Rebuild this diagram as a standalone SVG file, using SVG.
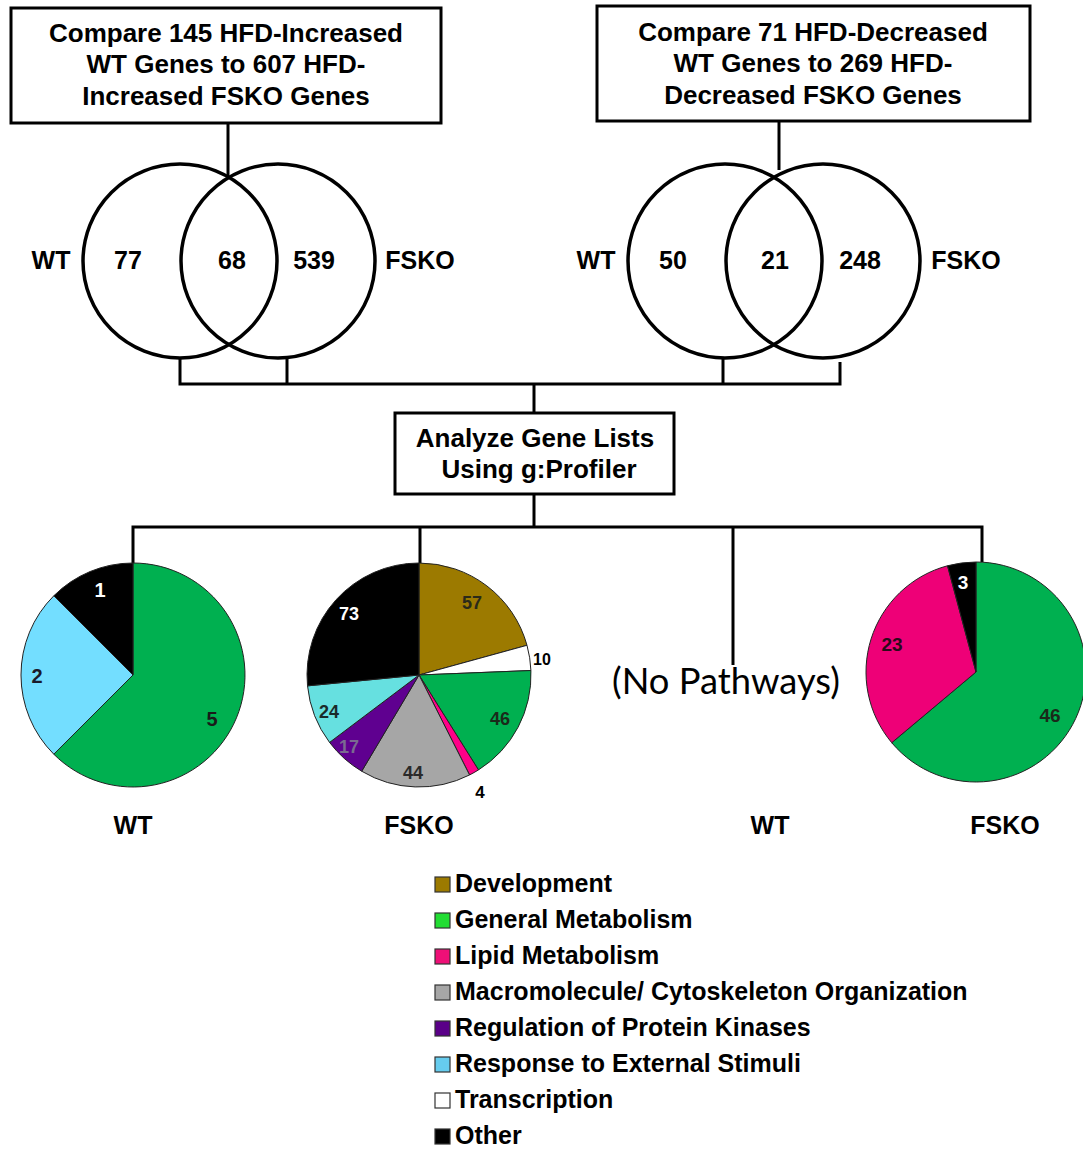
<svg xmlns="http://www.w3.org/2000/svg" width="1083" height="1149" viewBox="0 0 1083 1149">
<style>
.box{fill:#fff;stroke:#000;stroke-width:3}
.ln{fill:none;stroke:#000;stroke-width:3}
.venn{fill:none;stroke:#000;stroke-width:3.5}
.t{font-family:"Liberation Sans",Arial,sans-serif;font-weight:bold;text-anchor:middle;fill:#000}
.b26{font-size:26px}
.b25{font-size:25px}
.sl{stroke:#222;stroke-width:1}
.pl{font-family:"Liberation Sans",Arial,sans-serif;font-weight:bold;text-anchor:middle}
.lg{font-family:"Liberation Sans",Arial,sans-serif;font-weight:bold;font-size:25px;fill:#000}
.sw{stroke:#333;stroke-width:1.2}
</style>
<rect width="1083" height="1149" fill="#fff"/>
<g id="connectors">
<line class="ln" x1="228" y1="123" x2="228" y2="176"/>
<line class="ln" x1="779" y1="121" x2="779" y2="170"/>
<polyline class="ln" points="180,359 180,384 840,384 840,362"/>
<line class="ln" x1="287" y1="359" x2="287" y2="384"/>
<line class="ln" x1="723" y1="359" x2="723" y2="384"/>
<line class="ln" x1="534" y1="384" x2="534" y2="413"/>
<line class="ln" x1="534" y1="494" x2="534" y2="527"/>
<polyline class="ln" points="133,563 133,527 982,527 982,562"/>
<line class="ln" x1="420" y1="527" x2="420" y2="563"/>
<line class="ln" x1="733" y1="527" x2="733" y2="665"/>
</g>
<g id="box-increased">
<rect class="box" x="11" y="8" width="430" height="115"/>
<text class="t b26" x="226" y="42">Compare 145 HFD-Increased</text>
<text class="t b26" x="226" y="73">WT Genes to 607 HFD-</text>
<text class="t b26" x="226" y="105">Increased FSKO Genes</text>
</g>
<g id="box-decreased">
<rect class="box" x="597" y="6" width="433" height="115"/>
<text class="t b26" x="813" y="41">Compare 71 HFD-Decreased</text>
<text class="t b26" x="813" y="72">WT Genes to 269 HFD-</text>
<text class="t b26" x="813" y="104">Decreased FSKO Genes</text>
</g>
<g id="venn-increased">
<circle class="venn" cx="180" cy="261" r="97"/>
<circle class="venn" cx="278" cy="261" r="97"/>
<text class="t b25" x="51" y="269">WT</text>
<text class="t b25" x="128" y="269">77</text>
<text class="t b25" x="232" y="269">68</text>
<text class="t b25" x="314" y="269">539</text>
<text class="t b25" x="420" y="269">FSKO</text>
</g>
<g id="venn-decreased">
<circle class="venn" cx="725" cy="261" r="97"/>
<circle class="venn" cx="823" cy="261" r="97"/>
<text class="t b25" x="596" y="269">WT</text>
<text class="t b25" x="673" y="269">50</text>
<text class="t b25" x="775" y="269">21</text>
<text class="t b25" x="860" y="269">248</text>
<text class="t b25" x="966" y="269">FSKO</text>
</g>
<g id="box-analyze">
<rect class="box" x="395" y="413" width="279" height="81"/>
<text class="t b26" x="535" y="447">Analyze Gene Lists</text>
<text class="t b26" x="539" y="478">Using g:Profiler</text>
</g>
<g id="pie-wt-increased">
<path class="sl" fill="#00B050" d="M133,675 L133,563 A112,112 0 1 1 53.8,754.2 Z"/>
<path class="sl" fill="#73DEFF" d="M133,675 L53.8,754.2 A112,112 0 0 1 53.8,595.8 Z"/>
<path class="sl" fill="#000" d="M133,675 L53.8,595.8 A112,112 0 0 1 133,563 Z"/>
<text class="pl" font-size="20" x="100" y="597" fill="#fff">1</text>
<text class="pl" font-size="20" x="37" y="683" fill="#1a1a2a">2</text>
<text class="pl" font-size="20" x="212" y="726" fill="#1a1a1a">5</text>
<text class="t b25" x="133" y="834">WT</text>
</g>
<g id="pie-fsko-increased">
<path class="sl" fill="#9C7A00" d="M419,675 L419,563 A112,112 0 0 1 526.99,645.29 Z"/>
<path class="sl" fill="#fff" d="M419,675 L526.99,645.29 A112,112 0 0 1 530.91,670.52 Z"/>
<path class="sl" fill="#00B050" d="M419,675 L530.91,670.52 A112,112 0 0 1 478.48,769.90 Z"/>
<path class="sl" fill="#FF0088" d="M419,675 L478.48,769.90 A112,112 0 0 1 469.55,774.94 Z"/>
<path class="sl" fill="#A6A6A6" d="M419,675 L469.55,774.94 A112,112 0 0 1 361.70,771.23 Z"/>
<path class="sl" fill="#5F0090" d="M419,675 L361.70,771.23 A112,112 0 0 1 329.56,742.42 Z"/>
<path class="sl" fill="#66E0E0" d="M419,675 L329.56,742.42 A112,112 0 0 1 307.53,685.86 Z"/>
<path class="sl" fill="#000" d="M419,675 L307.53,685.86 A112,112 0 0 1 419,563 Z"/>
<text class="pl" font-size="18" x="472" y="609" fill="#2a2a1a">57</text>
<text class="pl" font-size="16" x="542" y="665" fill="#000">10</text>
<text class="pl" font-size="18" x="500" y="725" fill="#1a2a1a">46</text>
<text class="pl" font-size="17" x="480" y="798" fill="#000">4</text>
<text class="pl" font-size="18" x="413" y="779" fill="#2a2a2a">44</text>
<text class="pl" font-size="18" x="349" y="753" fill="#7a6a90">17</text>
<text class="pl" font-size="18" x="329" y="718" fill="#1a2a2a">24</text>
<text class="pl" font-size="18" x="349" y="620" fill="#fff">73</text>
<text class="t b25" x="419" y="834">FSKO</text>
</g>
<g id="no-pathways-wt">
<text x="726" y="694" font-family="Lato,'Open Sans',sans-serif" font-size="36" text-anchor="middle" textLength="228" lengthAdjust="spacingAndGlyphs" fill="#000">(No Pathways)</text>
<text class="t b25" x="770" y="834">WT</text>
</g>
<g id="pie-fsko-decreased">
<path class="sl" fill="#00B050" d="M976,672 L976,562 A110,110 0 1 1 891.74,742.71 Z"/>
<path class="sl" fill="#EE0077" d="M976,672 L891.74,742.71 A110,110 0 0 1 947.53,565.75 Z"/>
<path class="sl" fill="#000" d="M976,672 L947.53,565.75 A110,110 0 0 1 976,562 Z"/>
<text class="pl" font-size="19" x="963" y="589" fill="#fff">3</text>
<text class="pl" font-size="19" x="892" y="651" fill="#2a0a1a">23</text>
<text class="pl" font-size="19" x="1050" y="722" fill="#1a2a1a">46</text>
<text class="t b25" x="1005" y="834">FSKO</text>
</g>
<g id="legend">
<rect class="sw" x="435" y="877" width="15" height="15" fill="#9C7A00"/>
<text class="lg" x="455" y="892">Development</text>
<rect class="sw" x="435" y="913" width="15" height="15" fill="#22DD33"/>
<text class="lg" x="455" y="928">General Metabolism</text>
<rect class="sw" x="435" y="949" width="15" height="15" fill="#EE1077"/>
<text class="lg" x="455" y="964">Lipid Metabolism</text>
<rect class="sw" x="435" y="985" width="15" height="15" fill="#A6A6A6"/>
<text class="lg" x="455" y="1000">Macromolecule/ Cytoskeleton Organization</text>
<rect class="sw" x="435" y="1021" width="15" height="15" fill="#5A0088"/>
<text class="lg" x="455" y="1036">Regulation of Protein Kinases</text>
<rect class="sw" x="435" y="1057" width="15" height="15" fill="#66CCEE"/>
<text class="lg" x="455" y="1072">Response to External Stimuli</text>
<rect class="sw" x="435" y="1093" width="15" height="15" fill="#fff"/>
<text class="lg" x="455" y="1108">Transcription</text>
<rect class="sw" x="435" y="1129" width="15" height="15" fill="#000"/>
<text class="lg" x="455" y="1144">Other</text>
</g>
</svg>
